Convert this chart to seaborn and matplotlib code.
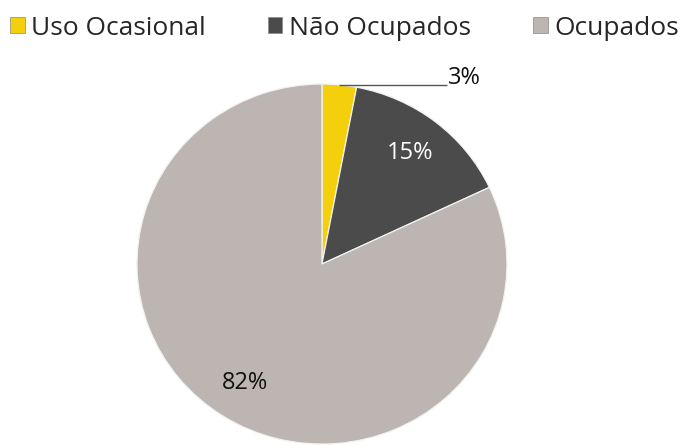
import matplotlib
matplotlib.use("Agg")
import matplotlib.pyplot as plt
import seaborn as sns
import numpy as np
from matplotlib.patches import Patch

categories = ["Uso Ocasional", "Não Ocupados", "Ocupados"]
values = [3, 15, 82]
label_texts = ["3%", "15%", "82%"]
colors = ["#F4D00C", "#4B4B4B", "#BCB5B1"]
label_colors = ["#111111", "white", "#111111"]

sns.set_theme(style="white")
plt.rcParams["font.family"] = ["Open Sans", "DejaVu Sans"]

fig = plt.figure(figsize=(6.89, 4.45), dpi=100)
ax = fig.add_axes([0.1988, 0.0022, 0.537, 0.809])

wedges, _ = ax.pie(values, colors=colors, startangle=90, counterclock=False,
                   radius=1.0, wedgeprops=dict(edgecolor="#F2F2F2", linewidth=0.9))

for i, w in enumerate(wedges):
    ang = np.deg2rad((w.theta1 + w.theta2) / 2)
    if i == 0:
        xe, ye = np.cos(ang), np.sin(ang)
        ax.plot([xe, 0.676], [ye, ye], color="#555555", lw=1.0, solid_capstyle="butt")
        ax.text(0.68, ye + 0.04, label_texts[i], fontsize=17, color=label_colors[i],
                ha="left", va="center")
    else:
        r = 0.78
        ax.text(np.cos(ang) * r, np.sin(ang) * r, label_texts[i], fontsize=17,
                color=label_colors[i], ha="center", va="center")

ax.set_xlim(-1, 1)
ax.set_ylim(-1, 1)
ax.set_aspect("auto")
ax.axis("off")

handles = [Patch(facecolor=c, edgecolor="#888888", linewidth=0.5) for c in colors]
fig.legend(handles, categories, loc="upper left", bbox_to_anchor=(0.0145, 0.965),
           ncol=3, frameon=False, fontsize=19, handlelength=0.55, handleheight=0.55,
           handletextpad=0.25, columnspacing=2.35, borderaxespad=0.0, borderpad=0.0)

fig.savefig("out.png", dpi=100)
